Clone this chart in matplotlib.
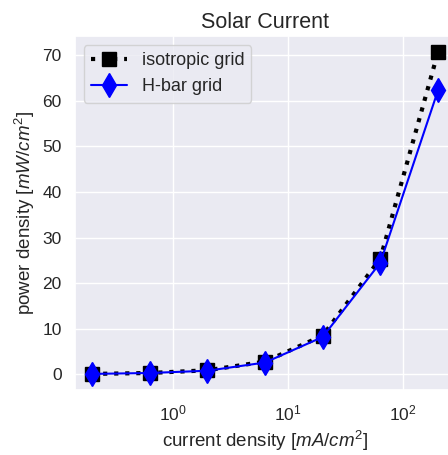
import matplotlib
matplotlib.use("Agg")
import matplotlib.pyplot as plt
import seaborn as sns
import numpy as np

current_density = [0.2, 0.632, 2.0, 6.32, 20.0, 63.2, 200.0]
iso_power = [0.1, 0.3, 0.9, 2.8, 8.5, 25.4, 70.7]
hbar_power = [0.1, 0.3, 0.8, 2.6, 8.2, 24.5, 62.3]

sns.set_theme(style="darkgrid")
plt.rcParams['font.family'] = ['Liberation Sans', 'DejaVu Sans']
plt.rcParams['mathtext.fontset'] = 'custom'
plt.rcParams['mathtext.rm'] = 'Liberation Sans'
plt.rcParams['mathtext.it'] = 'Liberation Sans:italic'
plt.rcParams['mathtext.bf'] = 'Liberation Sans:bold'

fig = plt.figure(figsize=(4.48, 4.55), dpi=100)
ax = fig.add_axes([74.8/448, 65/455, 380.5/448, 354/455])

ax.plot(current_density, iso_power, color='black', linestyle=':', linewidth=3,
        marker='s', markersize=10, label='isotropic grid')
ax.plot(current_density, hbar_power, color='blue', linestyle='-', linewidth=1.5,
        marker='d', markersize=12, label='H-bar grid')
ax.set_xscale('log')
ax.set_title('Solar Current', fontsize=15.5)
ax.set_xlabel('current density [$mA/cm^2$]', fontsize=13.5)
ax.set_ylabel('power density [$mW/cm^2$]', fontsize=13.5)
ax.tick_params(labelsize=12.5)
ax.legend(loc='upper left', fontsize=13)

fig.savefig('out.png', dpi=100)
